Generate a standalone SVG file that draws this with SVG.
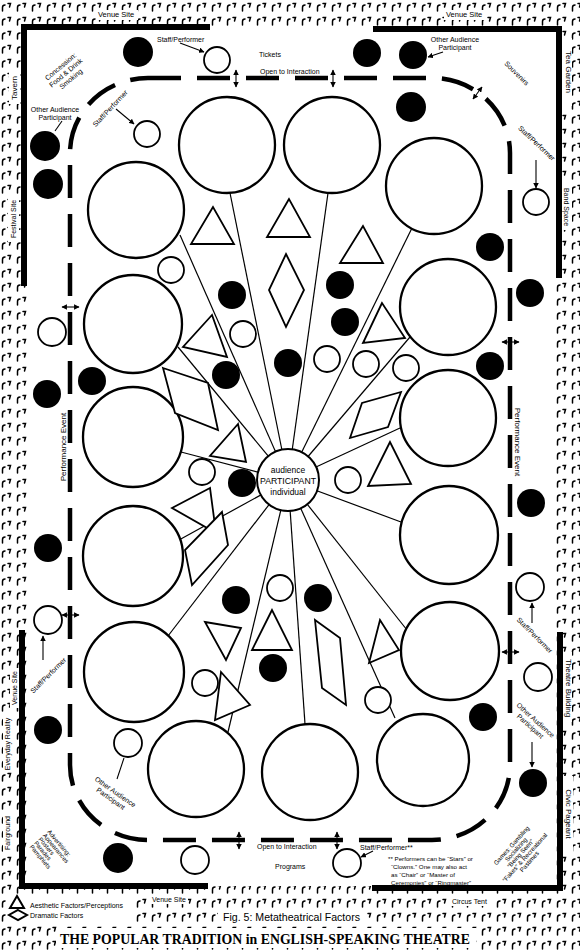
<svg xmlns="http://www.w3.org/2000/svg" width="580" height="950" viewBox="0 0 580 950">
<defs>
<pattern id="tex" width="15" height="14" patternUnits="userSpaceOnUse">
<path d="M2.5,11 V7.5 Q2.5,5 5,5 M8,3.5 H10.5 L9.5,7" fill="none" stroke="#000" stroke-width="1.5" stroke-linecap="round"/>
</pattern>
<marker id="ah" viewBox="0 0 10 10" refX="9" refY="5" markerWidth="5" markerHeight="5" orient="auto-start-reverse"><path d="M0,0 L10,5 L0,10 z" fill="#000"/></marker>
</defs>
<style>
.big{fill:#fff;stroke:#000;stroke-width:2.3}
.sm{fill:#fff;stroke:#000;stroke-width:1.8}
.blk{fill:#000}
.ray{stroke:#000;stroke-width:1.2}
.shp{fill:#fff;stroke:#000;stroke-width:1.8}
.bd{fill:none;stroke:#000;stroke-width:6}
.dash{fill:none;stroke:#000;stroke-width:4.5;stroke-dasharray:33 16}
.ar{stroke:#000;stroke-width:1.1;fill:none}
.wb{fill:#fff}
.t{font-family:"Liberation Sans",Arial,sans-serif;font-size:7px;fill:#000}
.s6{font-size:6.2px}
.s8{font-size:8px}
.mid{text-anchor:middle}
</style>

<!-- background texture -->
<rect x="0" y="0" width="580" height="950" fill="url(#tex)"/>
<rect class="wb" x="27" y="30" width="529" height="856"/>
<!-- white patches behind labels in texture band -->
<rect class="wb" x="96" y="10" width="42" height="10"/>
<rect class="wb" x="444" y="10" width="42" height="10"/>
<rect class="wb" x="9" y="72" width="11" height="32"/>
<rect class="wb" x="8" y="196" width="11" height="46"/>
<rect class="wb" x="560" y="38" width="12" height="68"/>
<rect class="wb" x="560" y="184" width="12" height="46"/>
<rect class="wb" x="560" y="652" width="12" height="70"/>
<rect class="wb" x="560" y="776" width="13" height="76"/>
<rect class="wb" x="10" y="668" width="10" height="40"/>
<rect class="wb" x="3" y="716" width="10" height="56"/>
<rect class="wb" x="3" y="812" width="10" height="42"/>
<rect class="wb" x="150" y="894" width="38" height="10"/>
<rect class="wb" x="450" y="896" width="44" height="10"/>
<rect class="wb" x="6" y="895" width="128" height="27"/>
<rect class="wb" x="218" y="908" width="148" height="16"/>
<rect class="wb" x="56" y="928" width="420" height="20"/>

<!-- venue borders -->
<g id="borders">
<path class="bd" d="M24,286 V27 H210"/>
<path class="bd" d="M373,29 H559 V278"/>
<path class="bd" d="M22,630 V886 H208"/>
<path class="bd" d="M372,888 H560 V632"/>
</g>

<!-- open-to-interaction boundary -->
<rect class="dash" x="70" y="78" width="440" height="762" rx="78" ry="75"/>

<!-- connectors -->
<g id="connectors">
<line class="ray" x1="288" y1="480" x2="230" y2="193"/>
<line class="ray" x1="288" y1="480" x2="328" y2="193"/>
<line class="ray" x1="288" y1="480" x2="412" y2="228"/>
<line class="ray" x1="288" y1="480" x2="180" y2="235"/>
<line class="ray" x1="288" y1="480" x2="410" y2="337"/>
<line class="ray" x1="288" y1="480" x2="178" y2="347"/>
<line class="ray" x1="288" y1="480" x2="181" y2="452"/>
<line class="ray" x1="288" y1="480" x2="400" y2="428"/>
<line class="ray" x1="288" y1="480" x2="179" y2="540"/>
<line class="ray" x1="288" y1="480" x2="401" y2="522"/>
<line class="ray" x1="288" y1="480" x2="168" y2="636"/>
<line class="ray" x1="288" y1="480" x2="407" y2="630"/>
<line class="ray" x1="288" y1="480" x2="228" y2="732"/>
<line class="ray" x1="288" y1="480" x2="305" y2="724"/>
<line class="ray" x1="288" y1="480" x2="395" y2="718"/>
</g>

<!-- performance events -->
<g id="event-A"><circle class="big" cx="227" cy="145" r="48"/></g>
<g id="event-B"><circle class="big" cx="332" cy="145" r="48"/></g>
<g id="event-C"><circle class="big" cx="434" cy="186" r="48"/></g>
<g id="event-D"><circle class="big" cx="136" cy="210" r="48"/></g>
<g id="event-E"><circle class="big" cx="448" cy="307" r="48"/></g>
<g id="event-F"><circle class="big" cx="133" cy="324" r="49"/></g>
<g id="event-G"><circle class="big" cx="133" cy="437" r="50"/></g>
<g id="event-H"><circle class="big" cx="448" cy="418" r="48"/></g>
<g id="event-I"><circle class="big" cx="133" cy="556" r="50"/></g>
<g id="event-J"><circle class="big" cx="449" cy="535" r="49"/></g>
<g id="event-K"><circle class="big" cx="134" cy="672" r="50"/></g>
<g id="event-L"><circle class="big" cx="450" cy="651" r="49"/></g>
<g id="event-M"><circle class="big" cx="196" cy="769" r="48"/></g>
<g id="event-N"><circle class="big" cx="310" cy="772" r="48"/></g>
<g id="event-O"><circle class="big" cx="423" cy="760" r="46"/></g>

<!-- aesthetic factors (triangles) -->
<g id="aesthetic">
<polygon class="shp" points="213,207 191,244 234,244"/>
<polygon class="shp" points="289,199 267,237 310,237"/>
<polygon class="shp" points="363,226 340,263 383,263"/>
<polygon class="shp" points="382,303 363,343 405,338"/>
<polygon class="shp" points="212,315 183,347 227,357"/>
<polygon class="shp" points="238,424 210,456 246,462"/>
<polygon class="shp" points="390,442 368,486 411,484"/>
<polygon class="shp" points="210,488 172,508 216,533"/>
<polygon class="shp" points="205,622 241,628 226,660"/>
<polygon class="shp" points="272,610 252,650 292,650"/>
<polygon class="shp" points="221,672 215,720 250,705"/>
<polygon class="shp" points="380,620 369,663 399,650"/>
</g>

<!-- dramatic factors (diamonds) -->
<g id="dramatic">
<polygon class="shp" points="286,254 304,290 286,327 269,290"/>
<polygon class="shp" points="163,368 208,383 218,430 175,413"/>
<polygon class="shp" points="350,438 362,403 401,392 388,427"/>
<polygon class="shp" points="222,512 228,545 192,585 185,550"/>
<polygon class="shp" points="315,620 340,638 346,705 322,688"/>
</g>

<!-- staff / performers (open circles) -->
<g id="staff">
<circle class="sm" cx="217" cy="60" r="13"/>
<circle class="sm" cx="147" cy="134" r="13"/>
<circle class="sm" cx="171" cy="270" r="13"/>
<circle class="sm" cx="243" cy="334" r="13"/>
<circle class="sm" cx="327" cy="359" r="13"/>
<circle class="sm" cx="366" cy="364" r="13"/>
<circle class="sm" cx="406" cy="368" r="13"/>
<circle class="sm" cx="202" cy="472" r="13"/>
<circle class="sm" cx="348" cy="480" r="13"/>
<circle class="sm" cx="280" cy="588" r="13"/>
<circle class="sm" cx="205" cy="683" r="13"/>
<circle class="sm" cx="378" cy="700" r="13"/>
<circle class="sm" cx="536" cy="202" r="13"/>
<circle class="sm" cx="52" cy="332" r="14"/>
<circle class="sm" cx="48" cy="620" r="14"/>
<circle class="sm" cx="530" cy="587" r="14"/>
<circle class="sm" cx="538" cy="677" r="14"/>
<circle class="sm" cx="128" cy="743" r="14"/>
<circle class="sm" cx="195" cy="860" r="14"/>
<circle class="sm" cx="347" cy="863" r="14"/>
</g>

<!-- other audience (black circles) -->
<g id="audience">
<circle class="blk" cx="138" cy="52" r="15"/>
<circle class="blk" cx="367" cy="53" r="14"/>
<circle class="blk" cx="413" cy="55" r="14"/>
<circle class="blk" cx="411" cy="107" r="15"/>
<circle class="blk" cx="45" cy="146" r="15"/>
<circle class="blk" cx="48" cy="184" r="15"/>
<circle class="blk" cx="232" cy="295" r="14"/>
<circle class="blk" cx="340" cy="285" r="14"/>
<circle class="blk" cx="345" cy="322" r="14"/>
<circle class="blk" cx="288" cy="363" r="14"/>
<circle class="blk" cx="226" cy="375" r="14"/>
<circle class="blk" cx="92" cy="381" r="14"/>
<circle class="blk" cx="47" cy="394" r="14"/>
<circle class="blk" cx="490" cy="247" r="14"/>
<circle class="blk" cx="530" cy="293" r="14"/>
<circle class="blk" cx="490" cy="366" r="14"/>
<circle class="blk" cx="242" cy="483" r="14"/>
<circle class="blk" cx="236" cy="600" r="14"/>
<circle class="blk" cx="318" cy="598" r="14"/>
<circle class="blk" cx="273" cy="668" r="14"/>
<circle class="blk" cx="48" cy="548" r="14"/>
<circle class="blk" cx="48" cy="730" r="14"/>
<circle class="blk" cx="531" cy="503" r="14"/>
<circle class="blk" cx="483" cy="717" r="14"/>
<circle class="blk" cx="533" cy="783" r="14"/>
<circle class="blk" cx="118" cy="858" r="15"/>
</g>

<!-- central node -->
<g id="participant">
<circle cx="288" cy="480" r="31" fill="#fff" stroke="#000" stroke-width="2"/>
<text class="t mid" x="288" y="473" style="font-size:8.5px">audience</text>
<text class="t mid" x="288" y="484" style="font-size:9px" textLength="56" lengthAdjust="spacingAndGlyphs">PARTICIPANT</text>
<text class="t mid" x="288" y="495" style="font-size:8.5px">individual</text>
</g>

<!-- interaction arrows -->
<g id="arrows">
<line class="ar" x1="236" y1="70" x2="236" y2="87" marker-start="url(#ah)" marker-end="url(#ah)"/>
<line class="ar" x1="333" y1="70" x2="333" y2="87" marker-start="url(#ah)" marker-end="url(#ah)"/>
<line class="ar" x1="473" y1="99" x2="482" y2="87" marker-start="url(#ah)" marker-end="url(#ah)"/>
<line class="ar" x1="62" y1="307" x2="79" y2="307" marker-start="url(#ah)" marker-end="url(#ah)"/>
<line class="ar" x1="502" y1="342" x2="519" y2="342" marker-start="url(#ah)" marker-end="url(#ah)"/>
<line class="ar" x1="62" y1="615" x2="79" y2="615" marker-start="url(#ah)" marker-end="url(#ah)"/>
<line class="ar" x1="502" y1="652" x2="519" y2="652" marker-start="url(#ah)" marker-end="url(#ah)"/>
<line class="ar" x1="239" y1="832" x2="239" y2="849" marker-start="url(#ah)" marker-end="url(#ah)"/>
<line class="ar" x1="337" y1="832" x2="337" y2="849" marker-start="url(#ah)" marker-end="url(#ah)"/>
<!-- pointers -->
<line class="ar" x1="180" y1="43" x2="204" y2="52" marker-end="url(#ah)"/>
<line class="ar" x1="116" y1="109" x2="134" y2="124" marker-end="url(#ah)"/>
<line class="ar" x1="62" y1="121" x2="55" y2="131"/>
<line class="ar" x1="443" y1="52" x2="428" y2="57" marker-end="url(#ah)"/>
<line class="ar" x1="536" y1="160" x2="536" y2="188" marker-end="url(#ah)"/>
<line class="ar" x1="43" y1="660" x2="43" y2="636" marker-end="url(#ah)"/>
<line class="ar" x1="532" y1="623" x2="532" y2="603" marker-end="url(#ah)"/>
<line class="ar" x1="532" y1="742" x2="532" y2="767" marker-end="url(#ah)"/>
<line class="ar" x1="117" y1="779" x2="124" y2="758"/>
<line class="ar" x1="373" y1="851" x2="361" y2="857" marker-end="url(#ah)"/>
</g>

<!-- labels -->
<g id="labels">
<text class="t" x="98" y="17" style="font-size:7.5px">Venue Site</text>
<text class="t" x="446" y="17" style="font-size:7.5px">Venue Site</text>
<text class="t" x="157" y="42">Staff/Performer</text>
<text class="t" x="259" y="57">Tickets</text>
<text class="t" x="260" y="74">Open to Interaction</text>
<text class="t mid" x="455" y="42">Other Audience</text>
<text class="t mid" x="455" y="50">Participant</text>
<text class="t mid" x="55" y="112">Other Audience</text>
<text class="t mid" x="55" y="120">Participant</text>
<g transform="translate(66,73) rotate(-40)">
<text class="t mid" y="-6">Concession:</text>
<text class="t mid" y="2">Food &amp; Drink</text>
<text class="t mid" y="10">Smoking</text>
</g>
<text class="t mid" transform="translate(112,110) rotate(-47)">Staff/Performer</text>
<text class="t mid" transform="translate(515,75) rotate(45)">Souvenirs</text>
<text class="t mid" transform="translate(535,145) rotate(43)">Staff/Performer</text>
<text class="t mid s8" transform="translate(17,88) rotate(-90)">Tavern</text>
<text class="t mid" transform="translate(16,219) rotate(-90)">Festival Site</text>
<text class="t mid s8" transform="translate(566,72) rotate(90)">Tea Garden</text>
<text class="t mid" transform="translate(564,207) rotate(90)">Band Space</text>
<text class="t mid s8" transform="translate(66,447) rotate(-90)">Performance Event</text>
<text class="t mid s8" transform="translate(515,442) rotate(90)">Performance Event</text>
<text class="t mid" transform="translate(50,677) rotate(-45)">Staff/Performer</text>
<text class="t mid" transform="translate(533,637) rotate(45)">Staff/Performer</text>
<g transform="translate(534,722) rotate(42)">
<text class="t mid" y="0">Other Audience</text>
<text class="t mid" y="8">Participant</text>
</g>
<text class="t mid s8" transform="translate(566,688) rotate(90)">Theatre Building</text>
<text class="t mid s8" transform="translate(566,814) rotate(90)">Civic Pageant</text>
<text class="t mid" transform="translate(17,688) rotate(-90)">Venue Site</text>
<text class="t mid" transform="translate(10,744) rotate(-90)">Everyday Reality</text>
<text class="t mid" transform="translate(10,833) rotate(-90)">Fairground</text>
<g transform="translate(114,794) rotate(35)">
<text class="t mid" y="0">Other Audience</text>
<text class="t mid" y="8">Participant</text>
</g>
<g transform="translate(47,832) rotate(50)">
<text class="t s6" y="0">Advertising:</text>
<text class="t s6" y="5.8">Appearances</text>
<text class="t s6" y="11.6">Posters</text>
<text class="t s6" y="17.4">Parades</text>
<text class="t s6" y="23.2">Pamphlets</text>
</g>
<g transform="translate(522,855) rotate(-48)">
<text class="t s6 mid" y="-12">Games: Gambling</text>
<text class="t s6 mid" y="-6">Socializing</text>
<text class="t s6 mid" y="0">“Being Seen”</text>
<text class="t s6 mid" y="6">“Fakes” &amp; Recreational</text>
<text class="t s6 mid" y="12">Pastimes</text>
</g>
<text class="t" x="257" y="849">Open to Interaction</text>
<text class="t" x="275" y="869">Programs</text>
<text class="t" x="360" y="850">Staff/Performer**</text>
<text class="t s6" x="388" y="861">** Performers can be “Stars” or</text>
<text class="t s6" x="391" y="869">“Clowns.” One may also act</text>
<text class="t s6" x="391" y="877">as “Chair” or “Master of</text>
<text class="t s6" x="391" y="885">Ceremonies” or “Ringmaster”</text>
<text class="t" x="152" y="902">Venue Site</text>
<text class="t" x="452" y="904">Circus Tent</text>
<text class="t" x="223" y="921" style="font-size:11px" textLength="137" lengthAdjust="spacingAndGlyphs">Fig. 5: Metatheatrical Factors</text>
</g>

<!-- legend -->
<g id="legend">
<polygon points="17,896 10,908 24,908" fill="#fff" stroke="#000" stroke-width="2"/>
<text class="t" x="30" y="908">Aesthetic Factors/Perceptions</text>
<polygon points="18,910 27,915 18,920 9,915" fill="#fff" stroke="#000" stroke-width="2"/>
<text class="t" x="30" y="918">Dramatic Factors</text>
</g>

<text x="60" y="944" font-family="'Liberation Serif','Times New Roman',serif" font-weight="bold" font-size="15" textLength="410" lengthAdjust="spacingAndGlyphs">THE POPULAR TRADITION in ENGLISH-SPEAKING THEATRE</text>
</svg>
